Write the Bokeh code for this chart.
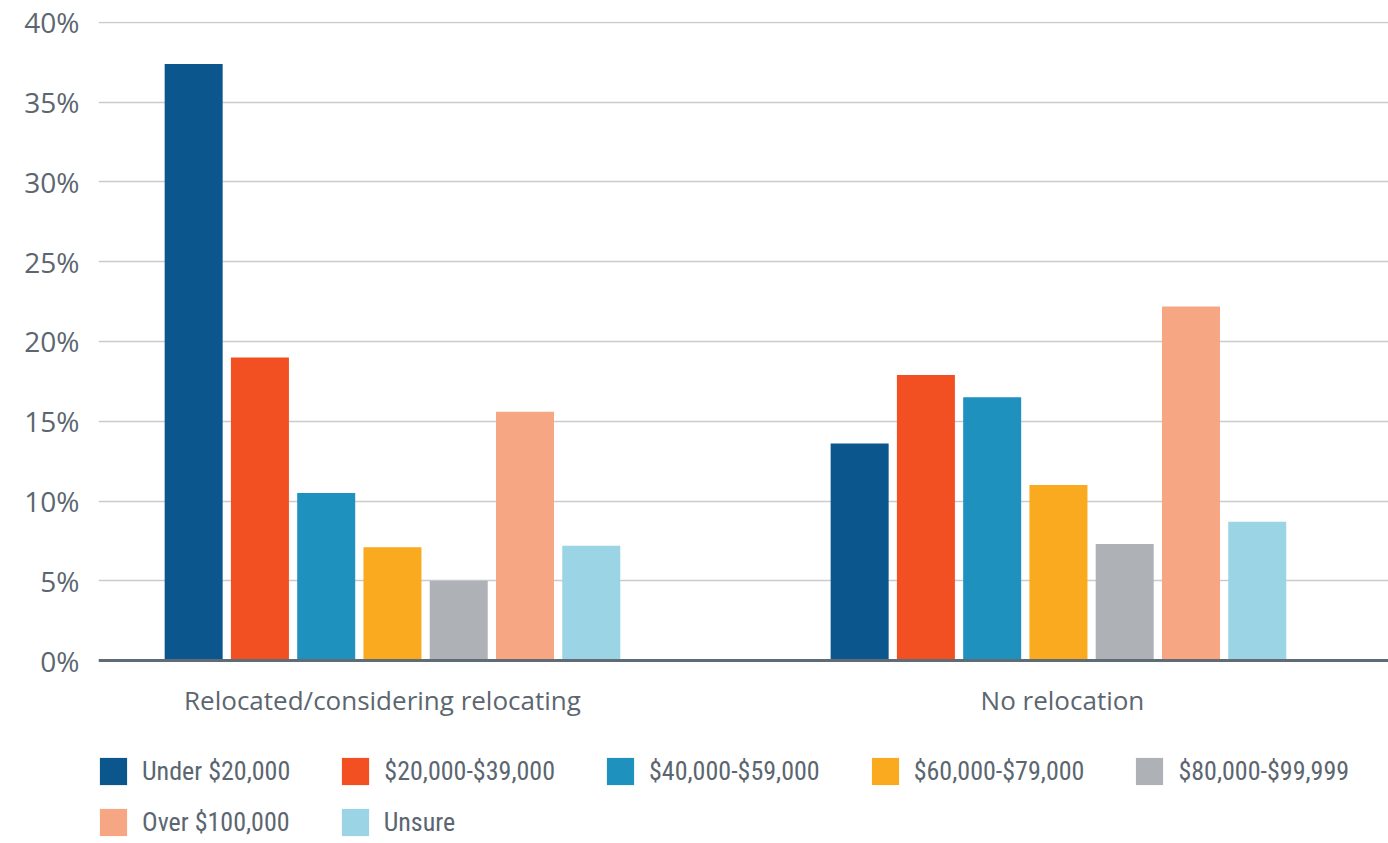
from bokeh.plotting import figure
from bokeh.models import Range1d, FixedTicker, PrintfTickFormatter, Legend, LegendItem, Span
from bokeh.core.properties import value
from bokeh.embed import file_html
from bokeh.resources import INLINE

# ---- data ----
groups = ["Relocated/considering relocating", "No relocation"]
series = ["Under $20,000", "$20,000-$39,000", "$40,000-$59,000", "$60,000-$79,000",
          "$80,000-$99,999", "Over $100,000", "Unsure"]
relocated = [37.4, 19.0, 10.5, 7.1, 5.0, 15.6, 7.2]
no_relocation = [13.6, 17.9, 16.5, 11.0, 7.3, 22.2, 8.7]
colors = ["#0b568c", "#f24f23", "#1f91be", "#f9aa1f", "#aeb2b6", "#f6a683", "#9ad4e5"]
y_ticks = [0, 5, 10, 15, 20, 25, 30, 35, 40]

TEXT = "#5b6670"
LEGEND_FONT = "Roboto Condensed, DejaVu Sans Condensed, Liberation Sans Narrow, Open Sans"
group_pos = [i + 0.5 for i in range(len(groups))]

p = figure(width=1388, height=843, output_backend="svg", toolbar_location=None,
           x_range=Range1d(0.0586, 1.9956), y_range=Range1d(-11.47, 40.06),
           min_border_left=98, min_border_right=0, min_border_top=21, min_border_bottom=0)
p.outline_line_color = None
p.background_fill_color = "white"
p.border_fill_color = "white"
p.xaxis.visible = False

pitch = 0.0995
bar_w = 0.0871
renderers = []
for i, name in enumerate(series):
    off = (i - (len(series) - 1) / 2) * pitch
    xs = [g + off for g in group_pos]
    tops = [relocated[i], no_relocation[i]]
    r = p.vbar(x=xs, top=tops, bottom=0, width=bar_w, color=colors[i], line_color=None)
    renderers.append(r)

# grid / axes
p.xgrid.grid_line_color = None
p.ygrid.grid_line_color = "#c9cccf"
p.ygrid.grid_line_width = 1.5
p.ygrid.ticker = FixedTicker(ticks=y_ticks)

p.yaxis.ticker = FixedTicker(ticks=y_ticks)
p.yaxis.formatter = PrintfTickFormatter(format="%d%%")
p.yaxis.axis_line_color = None
p.yaxis.major_tick_line_color = None
p.yaxis.minor_tick_line_color = None
p.yaxis.major_label_text_font = "Open Sans"
p.yaxis.major_label_text_font_size = "28px"
p.yaxis.major_label_text_color = TEXT
p.yaxis.major_label_standoff = 13

# zero baseline
p.add_layout(Span(location=0, dimension="width", line_color="#5f6b75", line_width=3))

# category labels
p.text(x=group_pos, y=[-2.5] * len(groups), text=groups, text_align="center",
       text_baseline="middle", x_offset=[-10, 4],
       text_font=value("Open Sans"), text_font_size="26px", text_color=TEXT)

def make_legend(idx, loc):
    lg = Legend(items=[LegendItem(label=series[i], renderers=[renderers[i]]) for i in idx],
                orientation="horizontal", location=loc,
                glyph_width=34, glyph_height=34, label_height=27, label_standoff=12, spacing=48,
                padding=0, margin=0, border_line_color=None, background_fill_alpha=0,
                label_text_font=LEGEND_FONT, label_text_font_size="26px",
                label_text_color=TEXT)
    p.add_layout(lg, "center")

make_legend([0, 1, 2, 3, 4], (-2, 55))
make_legend([5, 6], (-2, 4))

open("out.html", "w").write(file_html(p, INLINE))
